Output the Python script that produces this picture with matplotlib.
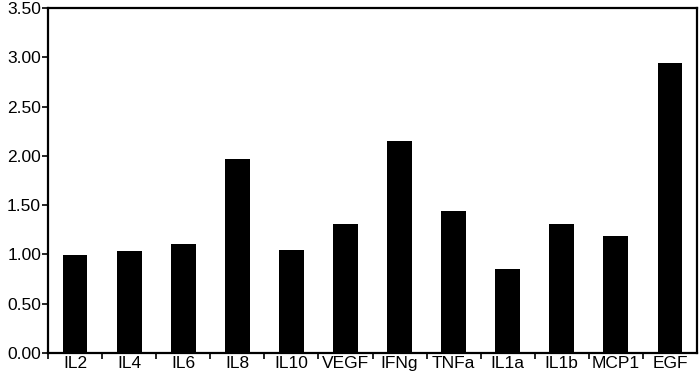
import matplotlib
matplotlib.use("Agg")
import matplotlib.pyplot as plt
import numpy as np

categories = ["IL2", "IL4", "IL6", "IL8", "IL10", "VEGF", "IFNg", "TNFa", "IL1a", "IL1b", "MCP1", "EGF"]
values = [0.99, 1.03, 1.11, 1.97, 1.05, 1.31, 2.15, 1.44, 0.85, 1.31, 1.19, 2.94]
yticks = [0.0, 0.5, 1.0, 1.5, 2.0, 2.5, 3.0, 3.5]

plt.rcParams['font.family'] = ['Liberation Sans', 'DejaVu Sans']
fig = plt.figure(figsize=(7, 3.75), dpi=100)
ax = fig.add_axes([48/700, 22/375, 649/700, 345/375])

x = np.arange(len(categories))
ax.bar(x, values, width=0.46, color="black", align='center')
ax.set_xlim(-0.5, len(categories) - 0.5)
ax.set_ylim(0, 3.5)
ax.set_yticks(yticks)
ax.set_yticklabels([f"{v:.2f}" for v in yticks], fontsize=12.5)
ax.set_xticks(x)
ax.set_xticklabels(categories, fontsize=12.5)
ax.tick_params(axis='x', which='major', length=0, pad=2)
ax.set_xticks(np.arange(-0.5, len(categories) - 0.5, 1.0), minor=True)
ax.tick_params(axis='x', which='minor', length=4, width=1.2, direction='out')
ax.tick_params(axis='y', length=4, width=1.2, direction='out', pad=1)
for s in ax.spines.values():
    s.set_linewidth(1.6)

fig.savefig("out.png", dpi=100)
